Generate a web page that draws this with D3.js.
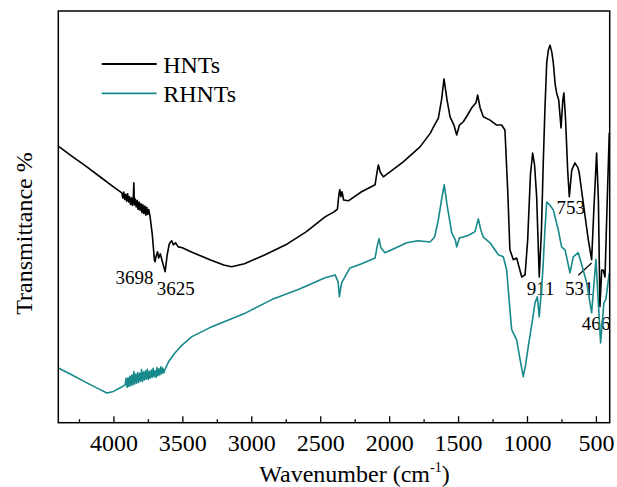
<!DOCTYPE html>
<html>
<head>
<meta charset="utf-8">
<script src="https://cdn.jsdelivr.net/npm/d3@7"></script>
<style>
  body { margin: 0; background: #fff; }
  svg text { font-family: "Liberation Serif", "Times New Roman", serif; fill: #000; }
</style>
</head>
<body>
<div id="chart"></div>
<script>
// wavenumber (cm-1) and transmittance (arbitrary %)
const hntsWave = [4400, 4300, 4200, 4100, 4000, 3939, 3932, 3925, 3918, 3911, 3904, 3897, 3890, 3883, 3876, 3869, 3862, 3856, 3852, 3848, 3842, 3835, 3828, 3821, 3814, 3807, 3800, 3793, 3786, 3779, 3772, 3765, 3758, 3751, 3744, 3734, 3718, 3703, 3698, 3690, 3680, 3672, 3660, 3645, 3625, 3610, 3595, 3585, 3577, 3565, 3550, 3530, 3500, 3450, 3400, 3300, 3200, 3142, 3050, 2900, 2750, 2600, 2465, 2400, 2375, 2365, 2358, 2350, 2342, 2330, 2296, 2200, 2102, 2085, 2078, 2065, 2042, 1900, 1776, 1700, 1679, 1643, 1620, 1602, 1580, 1558, 1530, 1510, 1490, 1462, 1430, 1401, 1370, 1358, 1340, 1317, 1268, 1220, 1184, 1160, 1140, 1124, 1099, 1075, 1038, 1014, 995, 975, 959, 945, 930, 911, 895, 882, 870, 857, 845, 833, 820, 809, 795, 785, 770, 753, 740, 732, 720, 705, 693, 675, 652, 630, 621, 580, 555, 531, 515, 495, 482, 471, 458, 447, 434, 420, 403];
const hntsT = [67.2, 64.7, 62.3, 59.8, 57.3, 55.8, 54.6, 56.0, 54.2, 55.5, 53.8, 55.6, 53.6, 54.9, 53.0, 54.6, 52.8, 54.4, 58.3, 52.9, 54.3, 52.4, 54.0, 51.8, 53.6, 51.6, 53.2, 51.0, 52.9, 50.8, 52.6, 50.4, 52.3, 50.6, 51.8, 50.0, 45.6, 39.6, 39.1, 40.5, 41.5, 40.0, 41.0, 39.1, 36.7, 40.8, 43.4, 43.9, 44.2, 43.2, 43.7, 42.7, 42.5, 41.7, 41.0, 39.6, 38.3, 37.9, 38.6, 40.8, 43.2, 46.4, 50.0, 51.2, 51.9, 55.3, 56.6, 54.9, 56.1, 54.1, 53.9, 56.1, 57.8, 61.4, 62.6, 60.9, 59.7, 63.3, 67.0, 70.4, 71.8, 74.0, 78.4, 83.5, 78.4, 74.3, 72.3, 69.9, 72.3, 73.1, 74.8, 76.5, 77.7, 79.6, 76.5, 74.3, 73.5, 72.3, 72.3, 71.1, 56.6, 42.0, 39.6, 40.0, 35.4, 35.9, 44.4, 60.2, 65.5, 62.6, 54.9, 35.4, 46.8, 63.1, 76.0, 87.4, 90.5, 91.7, 90.0, 87.4, 82.0, 80.1, 78.4, 71.6, 78.4, 80.1, 73.5, 61.4, 54.9, 61.4, 63.1, 61.9, 60.7, 50.5, 44.4, 39.6, 51.7, 65.5, 54.1, 28.2, 37.1, 37.1, 35.4, 51.7, 70.4];

const rhntsWave = [4400, 4300, 4200, 4100, 4048, 4000, 3950, 3915, 3908, 3901, 3894, 3887, 3880, 3873, 3866, 3859, 3852, 3845, 3838, 3831, 3824, 3817, 3810, 3803, 3796, 3789, 3782, 3775, 3768, 3761, 3754, 3747, 3740, 3733, 3726, 3719, 3712, 3705, 3698, 3691, 3684, 3677, 3670, 3663, 3656, 3649, 3642, 3635, 3625, 3600, 3553, 3500, 3431, 3300, 3214, 3050, 2851, 2650, 2465, 2392, 2370, 2361, 2350, 2344, 2284, 2200, 2102, 2085, 2073, 2060, 2030, 1950, 1872, 1790, 1703, 1670, 1643, 1620, 1600, 1580, 1546, 1520, 1510, 1490, 1462, 1420, 1377, 1353, 1335, 1317, 1268, 1208, 1172, 1147, 1130, 1111, 1075, 1050, 1027, 1010, 991, 960, 942, 925, 911, 886, 870, 857, 835, 809, 773, 749, 724, 688, 664, 628, 592, 567, 531, 500, 466, 442, 428, 403];
const rhntsT = [13.3, 11.6, 9.8, 8.1, 7.2, 7.6, 8.5, 9.2, 10.8, 8.6, 10.9, 8.8, 11.3, 9.0, 11.6, 9.2, 12.4, 9.4, 11.8, 9.6, 12.2, 9.8, 12.0, 10.1, 12.9, 10.0, 12.3, 10.4, 12.6, 10.6, 13.0, 10.5, 12.4, 10.8, 12.8, 11.0, 13.2, 11.2, 12.6, 11.0, 13.4, 11.4, 13.1, 11.6, 13.6, 11.9, 13.3, 12.1, 13.0, 14.8, 17.0, 18.9, 20.9, 23.1, 24.3, 26.5, 29.9, 32.5, 35.2, 35.9, 34.2, 30.6, 33.0, 34.0, 37.6, 38.6, 40.0, 43.2, 44.7, 42.5, 41.3, 42.5, 43.7, 44.2, 43.9, 45.1, 49.3, 54.1, 57.8, 52.9, 46.1, 44.4, 42.7, 44.9, 45.1, 45.6, 46.4, 49.5, 46.8, 45.1, 43.7, 40.8, 40.3, 37.1, 29.9, 22.6, 20.1, 15.3, 11.2, 14.1, 18.4, 25.0, 29.1, 30.6, 25.7, 36.4, 46.8, 53.6, 52.9, 51.7, 46.8, 42.7, 42.0, 36.4, 40.3, 41.3, 37.1, 34.0, 26.7, 39.6, 19.4, 29.1, 29.9, 36.4];

const seriesNames = ["HNTs", "RHNTs"];
const seriesColors = ["#000000", "#17898a"];

const majorTicks = [4000, 3500, 3000, 2500, 2000, 1500, 1000, 500];
const minorTicks = [4250, 3750, 3250, 2750, 2250, 1750, 1250, 750];

// peak labels: text, wavenumber where the text sits, transmittance at the baseline
const peakLabels = [
  {text: "3698", w: 3710, t: 33.7, anchor: "end"},
  {text: "3625", w: 3685, t: 31.1, anchor: "start"},
  {text: "753", w: 785, t: 50.7, anchor: "start"},
  {text: "911", w: 1002, t: 31.1, anchor: "start"},
  {text: "531", w: 725, t: 31.1, anchor: "start"},
  {text: "466", w: 603, t: 22.6, anchor: "start"}
];
const leader531 = [[628, 35.8], [531, 38.8]];

const width = 617, height = 487;
const margin = {top: 11, right: 7.3, bottom: 64.3, left: 58.3};
const innerW = width - margin.left - margin.right;
const innerH = height - margin.top - margin.bottom;

const svg = d3.select("#chart").append("svg")
    .attr("width", width)
    .attr("height", height);

const g = svg.append("g")
    .attr("transform", `translate(${margin.left}, ${margin.top})`);

const x = d3.scaleLinear().domain([4400, 400]).range([0, innerW]);
const y = d3.scaleLinear().domain([0, 100]).range([innerH, 0]);

// axes (ticks pointing inward)
const xAxis = d3.axisBottom(x)
    .tickValues(majorTicks)
    .tickFormat(d3.format("d"))
    .tickSizeInner(-6.5)
    .tickSizeOuter(0)
    .tickPadding(11);

const xMinor = d3.axisBottom(x)
    .tickValues(minorTicks)
    .tickFormat("")
    .tickSizeInner(-3.5)
    .tickSizeOuter(0);

g.append("g")
    .attr("class", "x-minor")
    .attr("transform", `translate(0, ${innerH})`)
    .call(xMinor)
    .call(a => a.select(".domain").remove());

const xg = g.append("g")
    .attr("class", "x-axis")
    .attr("transform", `translate(0, ${innerH})`)
    .call(xAxis);
xg.select(".domain").remove();
xg.selectAll("line").attr("stroke", "#000").attr("stroke-width", 1.3);
g.selectAll(".x-minor line").attr("stroke", "#000").attr("stroke-width", 1.3);
xg.selectAll("text").attr("font-size", 24).attr("font-family", "Liberation Serif, serif").attr("fill", "#000");

// peak labels (drawn under the curves)
g.selectAll(".peak")
    .data(peakLabels)
    .join("text")
    .attr("class", "peak")
    .attr("x", d => x(d.w))
    .attr("y", d => y(d.t))
    .attr("text-anchor", d => d.anchor)
    .attr("font-size", 19)
    .text(d => d.text);

g.append("path")
    .attr("d", d3.line().x(d => x(d[0])).y(d => y(d[1]))(leader531))
    .attr("stroke", "#000")
    .attr("stroke-width", 1.2)
    .attr("fill", "none");

// spectra
const line = d3.line()
    .x(d => x(d[0]))
    .y(d => y(d[1]));

const series = [
  d3.zip(hntsWave, hntsT),
  d3.zip(rhntsWave, rhntsT)
];

g.selectAll(".spectrum")
    .data(series)
    .join("path")
    .attr("class", "spectrum")
    .attr("d", line)
    .attr("fill", "none")
    .attr("stroke", (d, i) => seriesColors[i])
    .attr("stroke-width", 1.6)
    .attr("stroke-linejoin", "round");

// frame
g.append("rect")
    .attr("width", innerW)
    .attr("height", innerH)
    .attr("fill", "none")
    .attr("stroke", "#000")
    .attr("stroke-width", 1.5);

// legend
const legend = svg.append("g")
    .attr("transform", "translate(101.7, 64)");

legend.selectAll("line")
    .data(seriesNames)
    .join("line")
    .attr("x1", 0)
    .attr("x2", 55)
    .attr("y1", (d, i) => i * 29.3)
    .attr("y2", (d, i) => i * 29.3)
    .attr("stroke", (d, i) => seriesColors[i])
    .attr("stroke-width", 1.8);

legend.selectAll("text")
    .data(seriesNames)
    .join("text")
    .attr("x", 61.5)
    .attr("y", (d, i) => i * 29.3 + 8.5)
    .attr("font-size", 24)
    .text(d => d);

// axis titles
svg.append("text")
    .attr("transform", "translate(31.5, 233.5) rotate(-90)")
    .attr("text-anchor", "middle")
    .attr("font-size", 24)
    .text("Transmittance %");

const xt = svg.append("text")
    .attr("x", 259.3)
    .attr("y", 482)
    .attr("font-size", 24);
xt.append("tspan").text("Wavenumber (cm");
xt.append("tspan").attr("dy", -10).attr("font-size", 14).text("-1");
xt.append("tspan").attr("dy", 10).text(")");
</script>
</body>
</html>
